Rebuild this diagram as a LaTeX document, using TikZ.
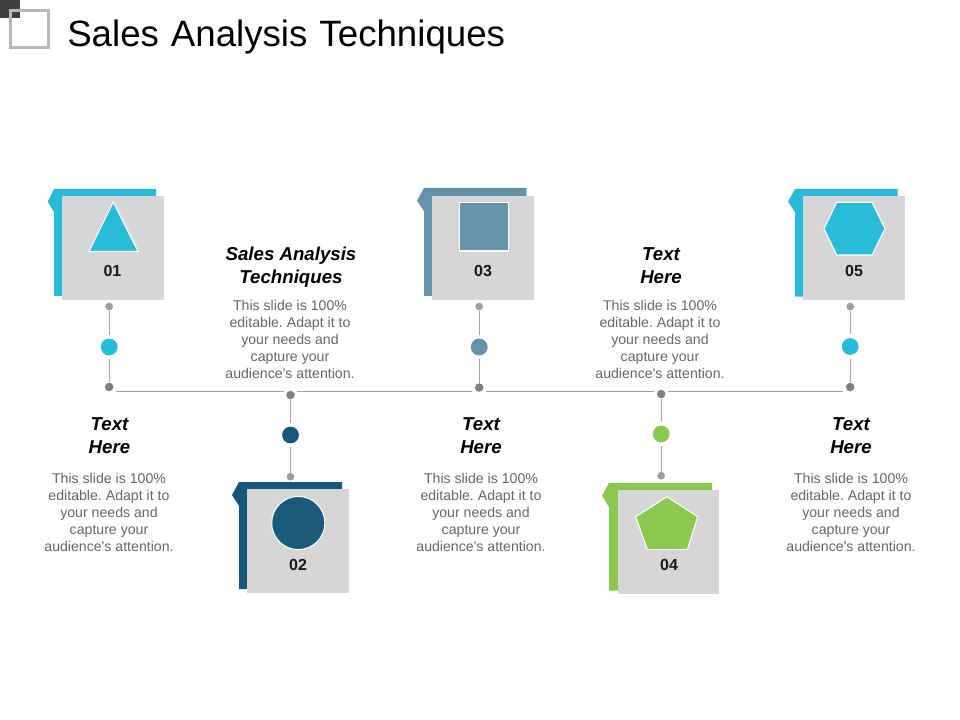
\documentclass[tikz,border=0pt]{standalone}
\usepackage{fontspec}
\setmainfont[Ligatures=TeXOff]{Liberation Sans}
\frenchspacing
\definecolor{cyanc}{HTML}{27BBD9}
\definecolor{navyc}{HTML}{17587A}
\definecolor{steelc}{HTML}{6492AA}
\definecolor{greenc}{HTML}{8CC850}
\definecolor{cardc}{HTML}{D6D6D6}
\definecolor{bodyc}{HTML}{666666}
\tikzset{
  frontcard/.style={fill=cardc,draw=none},
  iconshape/.style={draw=white,line width=0.8pt,opacity=0.98},
  numlabel/.style={font=\fontsize{12}{14}\selectfont\bfseries,text=black!90,inner sep=0},
  headlabel/.style={font=\fontsize{14}{17.3}\selectfont\bfseries\itshape,text=black,align=center,inner sep=0},
  bodylabel/.style={font=\fontsize{10.6}{12.6}\selectfont,text=bodyc,align=center,inner sep=0},
  smalldot/.style={circle,fill=black!38,inner sep=0,minimum size=5.8pt},
  hubdot/.style={circle,fill=black!50,inner sep=0,minimum size=6.4pt},
  bigdot/.style={circle,inner sep=0,minimum size=12.6pt,outer sep=3pt},
  conn/.style={draw=black!36,line width=0.85pt},
}
\begin{document}
\begin{tikzpicture}[x=0.75pt,y=-0.75pt]
\useasboundingbox (0,0) rectangle (960,720);
% header
\fill[black!75] (0,0) rectangle (20,18.5);
\draw[black!28,line width=2.4pt] (10.5,10.5) rectangle (48.5,47.5);
\node[anchor=base west,inner sep=0,font=\fontsize{27.5}{30}\selectfont,text=black] (title) at (67,47) {Sales\hspace{0.05em} Analysis\hspace{0.05em} Techniques};
% back cards
\fill[cyanc] (54,189) -- (156,189) -- (156,296) -- (54,296) -- (54,212) -- (47.7,201.7) -- cycle;
\fill[navyc] (239,482) -- (342,482) -- (342,589) -- (239,589) -- (239,506) -- (232,495) -- cycle;
\fill[steelc] (424,188) -- (526.7,188) -- (526.7,296) -- (424,296) -- (424,211) -- (417,200.7) -- cycle;
\fill[greenc] (609,483) -- (712,483) -- (712,590.7) -- (609,590.7) -- (609,507) -- (602,495.7) -- cycle;
\fill[cyanc] (795,189) -- (897.7,189) -- (897.7,296.7) -- (795,296.7) -- (795,212) -- (788,201.7) -- cycle;
% front cards
\fill[frontcard] (62,196) rectangle (164,300);
\fill[frontcard] (247.3,489) rectangle (349,592.7);
\fill[frontcard] (432,196) rectangle (533.7,300);
\fill[frontcard] (618.3,490) rectangle (719,593.7);
\fill[frontcard] (803.3,196) rectangle (905,300);
% icons
\filldraw[iconshape,fill=cyanc] (113.3,202) -- (138,251.3) -- (89,251.3) -- cycle;
\filldraw[iconshape,fill=navyc] (298.3,523) circle[radius=26.6];
\filldraw[iconshape,fill=steelc] (459.7,202.3) rectangle (508.3,251);
\filldraw[iconshape,fill=greenc] (667,496.7) -- (697.7,516.7) -- (687.3,549.7) -- (647.3,549.7) -- (635.7,516.7) -- cycle;
\filldraw[iconshape,fill=cyanc] (836.7,202.3) -- (872,202.3) -- (885,228.7) -- (872,255) -- (836.7,255) -- (824,228.7) -- cycle;
% numbers
\node[numlabel] (n1) at (112.5,271) {01};
\node[numlabel] (n2) at (298,565) {02};
\node[numlabel] (n3) at (483,271) {03};
\node[numlabel] (n4) at (669,565) {04};
\node[numlabel] (n5) at (854,271) {05};
% dots
\node[smalldot] (t1) at (109.2,306.5) {};
\node[bigdot,fill=cyanc] (b1) at (109.2,347) {};
\node[hubdot] (h1) at (109.2,387) {};
\node[smalldot] (t2) at (290.5,476.7) {};
\node[bigdot,fill=navyc] (b2) at (290.5,435) {};
\node[hubdot] (h2) at (290.5,395) {};
\node[smalldot] (t3) at (479.2,306.5) {};
\node[bigdot,fill=steelc] (b3) at (479.2,347) {};
\node[hubdot] (h3) at (479.2,387.5) {};
\node[smalldot] (t4) at (661.2,475.7) {};
\node[bigdot,fill=greenc] (b4) at (661.2,434) {};
\node[hubdot] (h4) at (661.2,394) {};
\node[smalldot] (t5) at (850.2,306.5) {};
\node[bigdot,fill=cyanc] (b5) at (850.2,346.5) {};
\node[hubdot] (h5) at (850.2,387) {};
% connectors
\foreach \i in {1,...,5} {
  \draw[conn] (t\i) -- (b\i);
  \draw[conn] (b\i) -- (h\i);
}
\draw[conn] ([shift={(7,4.5)}]h1.center) -- ([shift={(-6.5,-3.5)}]h2.center);
\draw[conn] ([shift={(6.5,-3.5)}]h2.center) -- ([shift={(-7,4)}]h3.center);
\draw[conn] ([shift={(7,4)}]h3.center) -- ([shift={(-7,-2.5)}]h4.center);
\draw[conn] ([shift={(7,-2.5)}]h4.center) -- ([shift={(-7,4.5)}]h5.center);
% texts
\node[headlabel] (a1) at (109.5,435.5) {Text\\Here};
\node[bodylabel] (c1) at (109,512.5) {This slide is 100\%\\editable. Adapt it to\\your needs and\\capture your\\audience's attention.};
\node[headlabel] (a2) at (291,267) {Sales Analysis\\Techniques};
\node[bodylabel] (c2) at (290,339.5) {This slide is 100\%\\editable. Adapt it to\\your needs and\\capture your\\audience's attention.};
\node[headlabel] (a3) at (481,435.5) {Text\\Here};
\node[bodylabel] (c3) at (481,512.5) {This slide is 100\%\\editable. Adapt it to\\your needs and\\capture your\\audience's attention.};
\node[headlabel] (a4) at (661,265.5) {Text\\Here};
\node[bodylabel] (c4) at (660,339.5) {This slide is 100\%\\editable. Adapt it to\\your needs and\\capture your\\audience's attention.};
\node[headlabel] (a5) at (851,435.5) {Text\\Here};
\node[bodylabel] (c5) at (851,512.5) {This slide is 100\%\\editable. Adapt it to\\your needs and\\capture your\\audience's attention.};
\end{tikzpicture}
\end{document}
